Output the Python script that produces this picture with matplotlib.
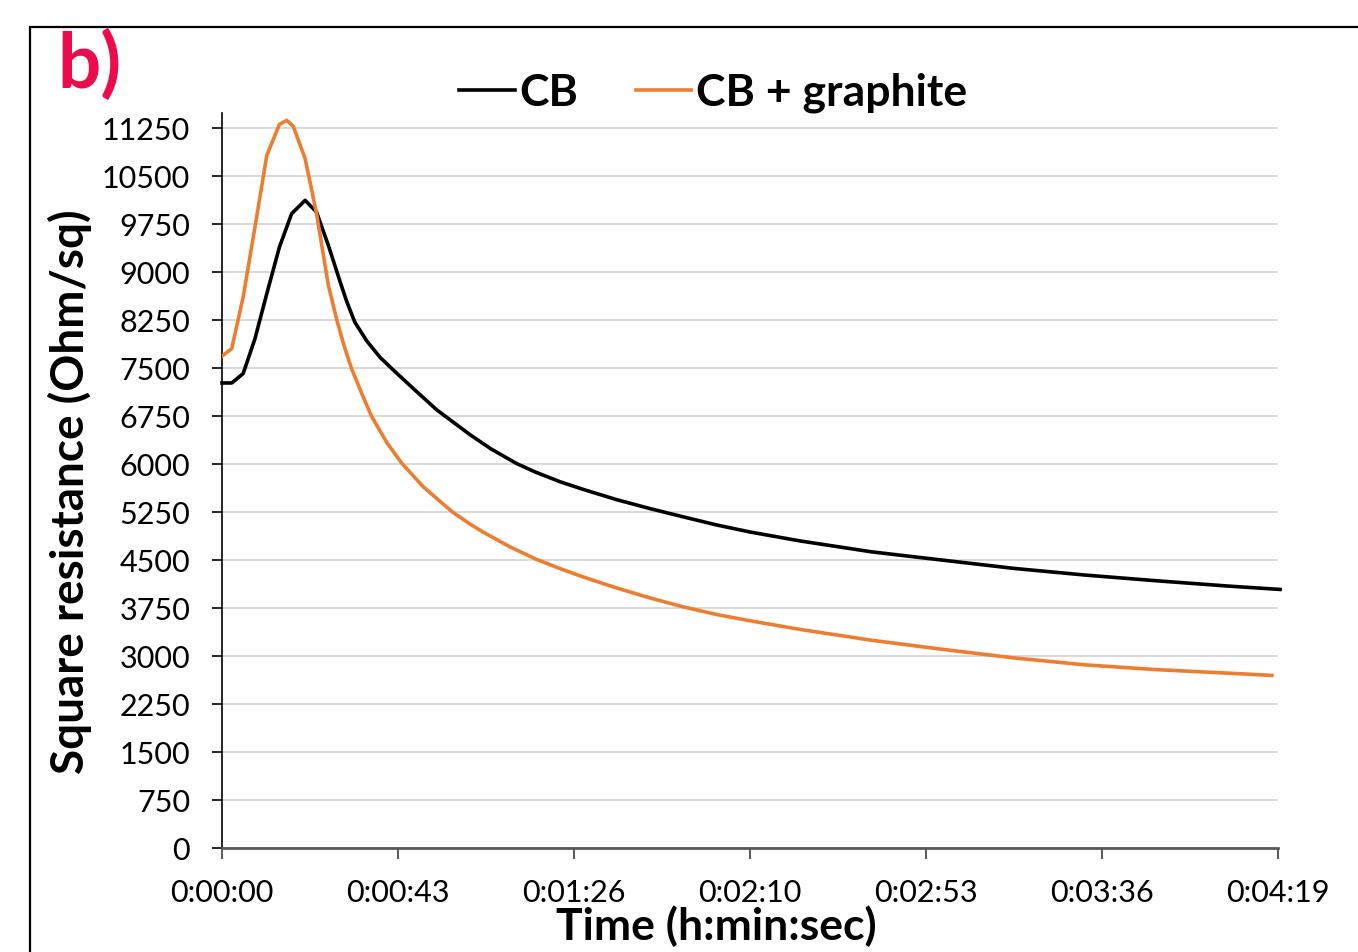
import matplotlib
matplotlib.use("Agg")
import matplotlib.pyplot as plt
from matplotlib.ticker import FuncFormatter
from matplotlib.patches import Rectangle

# time in seconds, square resistance in Ohm/sq
t_cb = [0, 2.4, 5.2, 8.1, 11.0, 14.1, 17.1, 20.4, 23.2, 26.1, 29.0, 30.6, 32.6, 35.5, 38.8, 42.0,
        47.0, 52.7, 60.9, 66.0, 72.3, 77.0, 83.0, 88.7, 96.9, 105.1, 113.2, 121.4, 129.6, 141.9,
        159.4, 176.9, 194.5, 212.0, 229.5, 247.1, 259.7]
r_cb = [7270, 7270, 7417, 7964, 8667, 9395, 9917, 10125, 9942, 9422, 8850, 8545, 8220, 7930, 7670, 7475,
        7180, 6850, 6460, 6240, 6010, 5875, 5725, 5605, 5445, 5305, 5177, 5050, 4940, 4800,
        4630, 4500, 4370, 4266, 4177, 4094, 4042]

t_cbg = [0, 2.4, 5.2, 8.1, 11.0, 14.1, 15.9, 17.5, 20.4, 23.2, 26.1, 28.2, 29.8, 31.8, 34.3, 36.7,
         40.4, 44.1, 49.4, 56.4, 60.9, 64.1, 70.7, 77.2, 83.0, 88.7, 96.9, 105.1, 113.2, 121.4, 129.6,
         141.9, 159.4, 176.9, 194.5, 212.0, 229.5, 247.1, 257.7]
r_cbg = [7688, 7808, 8614, 9708, 10828, 11313, 11375, 11281, 10777, 9922, 8800, 8250, 7886, 7495, 7104, 6750,
         6343, 6017, 5646, 5261, 5063, 4938, 4707, 4512, 4367, 4236, 4064, 3908, 3770, 3650, 3552,
         3417, 3248, 3105, 2971, 2862, 2788, 2733, 2698]

x_ticks = [0, 43.2, 86.4, 129.6, 172.8, 216.0, 259.2]  # 0.0005 day steps
y_step = 750

FONT = "Lato"
plt.rcParams['font.family'] = [FONT, 'DejaVu Sans']


def hms(x, pos=None):
    s = int(round(x))
    return f"{s // 3600}:{(s % 3600) // 60:02d}:{s % 60:02d}"


fig = plt.figure(figsize=(13.58, 9.52), dpi=100)
ax = fig.add_axes([222 / 1358, 1 - 848 / 952, (1278 - 222) / 1358, (848 - 113) / 952])

ax.plot(t_cb, r_cb, color='black', lw=2.6, label='CB', clip_on=False, zorder=3,
        solid_joinstyle='round')
ax.plot(t_cbg, r_cbg, color='#ED7D31', lw=2.6, label='CB + graphite', zorder=3,
        solid_joinstyle='round')

ax.set_xlim(0, 259.2)
ax.set_ylim(0, 11490)
ax.set_xticks(x_ticks)
ax.xaxis.set_major_formatter(FuncFormatter(hms))
ax.set_yticks(range(0, 11251, y_step))

ax.grid(axis='y', color='#D9D9D9', lw=1.4)
ax.set_axisbelow(True)
for s in ['top', 'right']:
    ax.spines[s].set_visible(False)
ax.spines['left'].set_color('black')
ax.spines['left'].set_linewidth(1.2)
ax.spines['bottom'].set_color('#595959')
ax.spines['bottom'].set_linewidth(2)

ax.tick_params(axis='y', length=7, width=1.2, color='black', pad=16, labelsize=22)
ax.tick_params(axis='x', length=8, width=1.4, color='#595959', pad=14, labelsize=22)

ax.set_ylabel('Square resistance (Ohm/sq)', fontsize=33, fontweight='bold')
ax.yaxis.set_label_coords((92 - 222) / 1056, (848 - 491.5) / 735)
ax.set_xlabel('Time (h:min:sec)', fontsize=32, fontweight='bold', va='top')
ax.xaxis.set_label_coords((716.5 - 222) / 1056, (848 - 905) / 735)

leg = fig.legend(loc='center', bbox_to_anchor=(713 / 1358, 1 - 93 / 952), ncol=2, frameon=False,
                 handlelength=1.25, handletextpad=0.1, columnspacing=1.3,
                 prop={'family': FONT, 'weight': 'bold', 'size': 32})

fig.text(57 / 1358, 1 - 88 / 952, 'b)', color='#EC0C4C', fontsize=55, fontweight='bold',
         ha='left', va='baseline')

# panel frame (cropped in the original)
fig.patches.append(Rectangle((30 / 1358, -0.1), 1.2, 1 - 27 / 952 + 0.1, transform=fig.transFigure,
                             fill=False, edgecolor='black', lw=1.6, zorder=0))

fig.savefig('out.png', dpi=100)
